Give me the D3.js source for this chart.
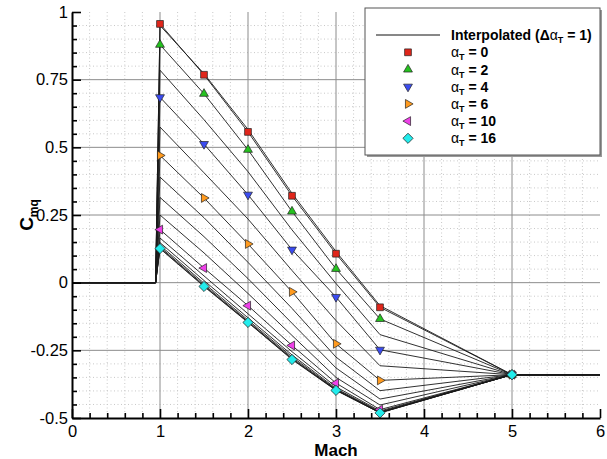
<!DOCTYPE html>
<html><head><meta charset="utf-8">
<script src="https://cdn.jsdelivr.net/npm/d3@7"></script>
<style>body{margin:0;background:#fff}svg{display:block;font-family:"Liberation Sans",Arial,sans-serif}</style>
</head><body><svg id="c" width="607" height="459"></svg>
<script>
// ---------- data ----------
const machPoints = [0, 0.95, 1.0, 1.5, 2.0, 2.5, 3.0, 3.5, 5.0, 6.0];
const interpAlphas = d3.range(0, 17); // alpha_T = 0..16, step 1
// interpolated Cmq at each Mach (index = alpha_T 0..16)
const cmqM000 = Array(17).fill(0);
const cmqM095 = Array(17).fill(0);
const cmqM100 = [0.956, 0.950, 0.879, 0.785, 0.685, 0.575, 0.470, 0.390, 0.315, 0.250, 0.196, 0.165, 0.148, 0.138, 0.132, 0.128, 0.126];
const cmqM150 = [0.768, 0.772, 0.698, 0.602, 0.512, 0.406, 0.313, 0.240, 0.170, 0.110, 0.054, 0.025, 0.008, -0.002, -0.008, -0.012, -0.014];
const cmqM200 = [0.557, 0.566, 0.491, 0.410, 0.325, 0.235, 0.143, 0.075, 0.015, -0.040, -0.085, -0.115, -0.130, -0.138, -0.143, -0.146, -0.147];
const cmqM250 = [0.321, 0.330, 0.263, 0.195, 0.122, 0.045, -0.034, -0.095, -0.150, -0.195, -0.232, -0.255, -0.267, -0.274, -0.279, -0.282, -0.284];
const cmqM300 = [0.107, 0.115, 0.051, -0.003, -0.053, -0.140, -0.226, -0.275, -0.315, -0.350, -0.371, -0.385, -0.391, -0.394, -0.396, -0.397, -0.398];
const cmqM350 = [-0.091, -0.085, -0.134, -0.192, -0.248, -0.307, -0.361, -0.399, -0.430, -0.452, -0.469, -0.474, -0.477, -0.479, -0.480, -0.481, -0.481];
const cmqM500 = Array(17).fill(-0.34);
const cmqM600 = Array(17).fill(-0.34);
const interpColumns = [cmqM000, cmqM095, cmqM100, cmqM150, cmqM200, cmqM250, cmqM300, cmqM350, cmqM500, cmqM600];

// computed (marker) points
const markerMach = [1.0, 1.5, 2.0, 2.5, 3.0, 3.5, 5.0];
const markerAlphas = [0, 2, 4, 6, 10, 16];
const cmqA0  = [0.956, 0.768, 0.557, 0.321, 0.107, -0.091, -0.34];
const cmqA2  = [0.879, 0.698, 0.491, 0.263, 0.051, -0.134, -0.34];
const cmqA4  = [0.685, 0.512, 0.325, 0.122, -0.053, -0.248, -0.34];
const cmqA6  = [0.470, 0.313, 0.143, -0.034, -0.226, -0.361, -0.34];
const cmqA10 = [0.196, 0.054, -0.085, -0.232, -0.371, -0.469, -0.34];
const cmqA16 = [0.126, -0.014, -0.147, -0.284, -0.398, -0.481, -0.34];
const markerSeries = [cmqA0, cmqA2, cmqA4, cmqA6, cmqA10, cmqA16];

const xTicks = [0, 1, 2, 3, 4, 5, 6];
const yTicks = [-0.5, -0.25, 0, 0.25, 0.5, 0.75, 1];

// ---------- styles ----------
const colors = ["#e0261b", "#25c21f", "#3b4cf0", "#ff9a1e", "#ee40e8", "#22ecec"];
const shapes = [
  {type: d3.symbolSquare, size: 46, rot: 0},
  {type: d3.symbolTriangle, size: 34, rot: 0},
  {type: d3.symbolTriangle, size: 34, rot: 180},
  {type: d3.symbolTriangle, size: 34, rot: 90},
  {type: d3.symbolTriangle, size: 34, rot: -90},
  {type: d3.symbolSquare, size: 52, rot: 45}
];

const svg = d3.select("#c");
const L = 72, R = 600, T = 12, B = 418;
const x = d3.scaleLinear().domain([0, 6]).range([L, R]);
const y = d3.scaleLinear().domain([-0.5, 1]).range([B, T]);

// minor grid (dotted)
const minorX = d3.range(0, 6.0001, 0.2).filter(v => Math.abs(v - Math.round(v)) > 1e-6);
const minorY = d3.range(-0.5, 1.0001, 0.05).filter(v => Math.abs(v*4 - Math.round(v*4)) > 1e-6);
const g = svg.append("g");
g.selectAll(".mgx").data(minorX).join("line")
  .attr("x1", d => x(d)).attr("x2", d => x(d)).attr("y1", T).attr("y2", B)
  .attr("stroke", "#c8c8c8").attr("stroke-width", 1).attr("stroke-dasharray", "1,2.5");
g.selectAll(".mgy").data(minorY).join("line")
  .attr("x1", L).attr("x2", R).attr("y1", d => y(d)).attr("y2", d => y(d))
  .attr("stroke", "#c8c8c8").attr("stroke-width", 1).attr("stroke-dasharray", "1,2.5");
// major grid
g.selectAll(".gx").data(xTicks.slice(1, -1)).join("line")
  .attr("x1", d => x(d)).attr("x2", d => x(d)).attr("y1", T).attr("y2", B)
  .attr("stroke", "#8c8c8c").attr("stroke-width", 1);
g.selectAll(".gy").data(yTicks.slice(1, -1)).join("line")
  .attr("x1", L).attr("x2", R).attr("y1", d => y(d)).attr("y2", d => y(d))
  .attr("stroke", "#8c8c8c").attr("stroke-width", 1);

// interpolated lines
const line = d3.line().x(d => x(d[0])).y(d => y(d[1]));
const linesData = interpAlphas.map((a, i) => machPoints.map((m, j) => [m, interpColumns[j][i]]));
svg.append("g").selectAll("path").data(linesData).join("path")
  .attr("d", line).attr("fill", "none").attr("stroke", "#1a1a1a").attr("stroke-width", 0.9);

// markers
const sym = (s) => d3.symbol().type(s.type).size(s.size)();
markerSeries.forEach((ser, k) => {
  svg.append("g").selectAll("path").data(ser).join("path")
    .attr("d", sym(shapes[k]))
    .attr("transform", (d, i) => `translate(${x(markerMach[i])},${y(d)}) rotate(${shapes[k].rot})`)
    .attr("fill", colors[k]).attr("stroke", "#222").attr("stroke-width", 0.7);
});

// axes
const ax = svg.append("g").attr("transform", `translate(0,${B})`)
  .call(d3.axisBottom(x).tickValues(xTicks).tickSize(-9).tickSizeOuter(0).tickPadding(7).tickFormat(d => String(d)));
svg.append("g").attr("transform", `translate(0,${B})`)
  .call(d3.axisBottom(x).tickValues(minorX).tickSize(-5).tickSizeOuter(0).tickFormat(""))
  .call(s => s.select(".domain").remove());
const ay = svg.append("g").attr("transform", `translate(${L},0)`)
  .call(d3.axisLeft(y).tickValues(yTicks).tickSize(-9).tickSizeOuter(0).tickPadding(4).tickFormat(d => String(d)));
svg.append("g").attr("transform", `translate(${L},0)`)
  .call(d3.axisLeft(y).tickValues(minorY).tickSize(-5).tickSizeOuter(0).tickFormat(""))
  .call(s => s.select(".domain").remove());
svg.selectAll(".tick line").attr("stroke", "#000").attr("stroke-width", 1.6);
[ax, ay].forEach(a => {
  a.select(".domain").attr("stroke", "#000").attr("stroke-width", 2);
  a.selectAll("text").attr("font-size", 16.5).attr("fill", "#000").attr("font-family", "Liberation Sans, Arial, sans-serif");
});

// axis titles
svg.append("text").attr("x", 336).attr("y", 456).attr("text-anchor", "middle")
  .attr("font-size", 17).attr("font-weight", "bold").text("Mach");
const yl = svg.append("text").attr("transform", "translate(33,215) rotate(-90)")
  .attr("text-anchor", "middle").attr("font-size", 19).attr("font-weight", "bold");
yl.append("tspan").text("C");
yl.append("tspan").attr("font-size", 12).attr("dy", 5).text("mq");

// legend
const lg = svg.append("g");
lg.append("rect").attr("x", 367).attr("y", 10).attr("width", 235).attr("height", 147).attr("fill", "#999");
lg.append("rect").attr("x", 365).attr("y", 8).attr("width", 235).attr("height", 147)
  .attr("fill", "#fff").attr("stroke", "#555").attr("stroke-width", 1);
lg.append("line").attr("x1", 376).attr("x2", 440).attr("y1", 35).attr("y2", 35)
  .attr("stroke", "#111").attr("stroke-width", 1);
const t0 = lg.append("text").attr("x", 451).attr("y", 40).attr("font-size", 14).attr("font-weight", "bold");
t0.append("tspan").text("Interpolated (Δ");
t0.append("tspan").attr("font-weight", "normal").text("α");
t0.append("tspan").attr("font-size", 9).attr("dy", 3).text("T");
t0.append("tspan").attr("dy", -3).text(" = 1)");
markerAlphas.forEach((a, k) => {
  const cy = 52.3 + k * 17.2;
  lg.append("path").attr("d", sym(shapes[k]))
    .attr("transform", `translate(408,${cy}) rotate(${shapes[k].rot})`)
    .attr("fill", colors[k]).attr("stroke", "#222").attr("stroke-width", 0.7);
  const t = lg.append("text").attr("x", 451).attr("y", cy + 5).attr("font-size", 14).attr("font-weight", "bold");
  t.append("tspan").attr("font-weight", "normal").text("α");
  t.append("tspan").attr("font-size", 9).attr("dy", 3).text("T");
  t.append("tspan").attr("dy", -3).text(" = " + a);
});
</script></body></html>
